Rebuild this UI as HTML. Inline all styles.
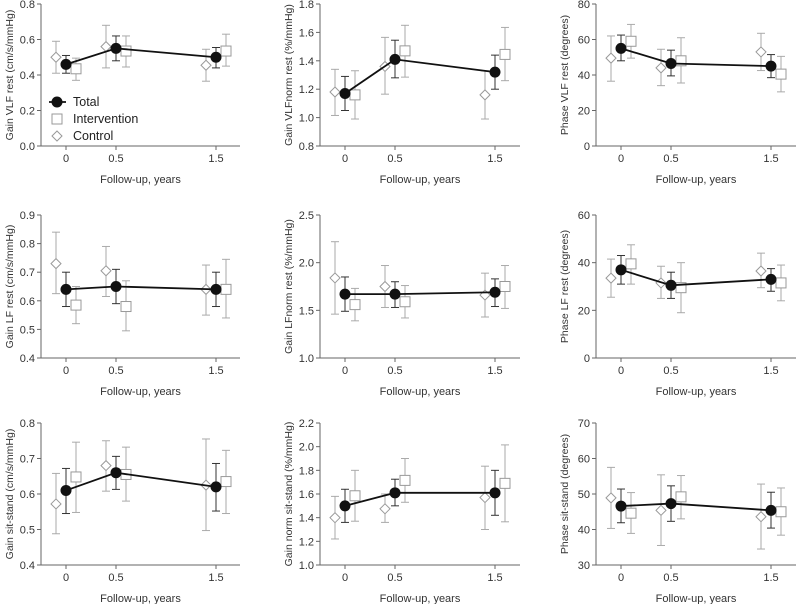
<!DOCTYPE html>
<html><head><meta charset="utf-8">
<style>
html,body{margin:0;padding:0;background:#fff;}
svg{display:block;font-family:"Liberation Sans",Arial,sans-serif;}
</style></head>
<body>
<svg id="chart" width="796" height="604" viewBox="0 0 796 604"></svg>
<script>
const times = [0, 0.5, 1.5];
const xTickLabels = ["0", "0.5", "1.5"];
const panelTitles = ["Gain VLF rest (cm/s/mmHg)","Gain VLFnorm rest (%/mmHg)","Phase VLF rest (degrees)",
 "Gain LF rest (cm/s/mmHg)","Gain LFnorm rest (%/mmHg)","Phase LF rest (degrees)",
 "Gain sit-stand (cm/s/mmHg)","Gain norm sit-stand (%/mmHg)","Phase sit-stand (degrees)"];
const yMins = [0, 0.8, 0, 0.4, 1.0, 0, 0.4, 1.0, 30];
const yMaxs = [0.8, 1.8, 80, 0.9, 2.5, 60, 0.8, 2.2, 70];
const ySteps = [0.2, 0.2, 20, 0.1, 0.5, 20, 0.1, 0.2, 10];
const yDecimals = [1,1,0,1,1,0,1,1,0];
// Total: mean, low, high
const totalMean = [[0.46,0.55,0.50],[1.17,1.41,1.32],[55,46.5,45],[0.64,0.65,0.64],[1.67,1.67,1.69],[37,30.5,33],[0.61,0.66,0.62],[1.50,1.61,1.61],[46.6,47.3,45.4]];
const totalLow = [[0.41,0.48,0.44],[1.05,1.28,1.20],[48,39.5,38.5],[0.58,0.59,0.58],[1.49,1.53,1.54],[31,25,28],[0.545,0.613,0.552],[1.36,1.50,1.42],[41.9,42.3,40.4]];
const totalHigh = [[0.51,0.62,0.555],[1.29,1.545,1.44],[62.5,54,51.5],[0.70,0.71,0.70],[1.85,1.80,1.83],[43,36,37.5],[0.672,0.706,0.686],[1.64,1.725,1.80],[51.4,52.3,50.5]];
const intMean = [[0.435,0.535,0.535],[1.16,1.47,1.445],[59,48,40.5],[0.585,0.58,0.64],[1.56,1.59,1.75],[39.5,29.5,31.5],[0.648,0.655,0.635],[1.585,1.715,1.69],[44.6,49.2,45]];
const intLow = [[0.37,0.445,0.45],[0.99,1.285,1.26],[49.5,35.5,30.5],[0.52,0.495,0.54],[1.39,1.42,1.52],[31,19,24],[0.548,0.58,0.545],[1.37,1.53,1.365],[38.9,43,38.4]];
const intHigh = [[0.495,0.62,0.63],[1.33,1.65,1.635],[68.5,61,50.5],[0.65,0.67,0.745],[1.73,1.76,1.97],[47.5,40,39],[0.746,0.732,0.723],[1.80,1.90,2.015],[50.4,55.2,51.7]];
const ctlMean = [[0.50,0.56,0.455],[1.18,1.36,1.16],[49.5,44,53],[0.73,0.705,0.64],[1.84,1.75,1.66],[33.5,31.5,36.5],[0.572,0.68,0.625],[1.40,1.475,1.57],[48.9,45.4,43.6]];
const ctlLow = [[0.41,0.44,0.365],[1.015,1.165,0.99],[36.5,34,42.5],[0.625,0.615,0.55],[1.46,1.53,1.43],[25.5,25,29.5],[0.488,0.608,0.497],[1.22,1.36,1.30],[40.3,35.5,34.5]];
const ctlHigh = [[0.59,0.68,0.545],[1.34,1.565,1.33],[62,54.5,63.5],[0.84,0.79,0.725],[2.22,1.97,1.89],[41.5,38.5,44],[0.658,0.75,0.755],[1.58,1.60,1.835],[57.5,55.4,52.8]];

const NS="http://www.w3.org/2000/svg";
const svg=document.getElementById('chart');
function mk(tag,attrs,parent){const e=document.createElementNS(NS,tag);for(const k in attrs)e.setAttribute(k,attrs[k]);(parent||svg).appendChild(e);return e;}
const colAxisX=[41,320,596], colEnd=[240,520,796];
const rowTop=[4,215,423], rowBot=[146,358,565];
const ctlOff=-0.1, intOff=0.1;

for(let p=0;p<9;p++){
  const c=p%3, r=Math.floor(p/3);
  const ax=colAxisX[c], x0=ax+25, top=rowTop[r], bot=rowBot[r];
  const xs=t=>x0+t*100;
  const ys=v=>bot-(v-yMins[p])/(yMaxs[p]-yMins[p])*(bot-top);
  const g=mk('g',{});
  
  
  // axes
  const ya=mk('line',{x1:ax,y1:top,x2:ax,y2:bot,stroke:'#666','stroke-width':1},g);
  
  
  const xa=mk('line',{x1:ax,y1:bot,x2:colEnd[c],y2:bot,stroke:'#666','stroke-width':1},g);
  
  
  const n=Math.round((yMaxs[p]-yMins[p])/ySteps[p]);
  for(let i=0;i<=n;i++){
    const v=yMins[p]+i*ySteps[p], y=ys(v);
    mk('line',{x1:ax-4,y1:y,x2:ax,y2:y,stroke:'#666'},g);
    const t=mk('text',{x:ax-6,y:y+4,'text-anchor':'end','font-size':11,fill:'#333'},g);
    t.textContent=v.toFixed(yDecimals[p]);
    
    
  }
  times.forEach((tm,i)=>{
    const x=xs(tm);
    mk('line',{x1:x,y1:bot,x2:x,y2:bot+4,stroke:'#666'},g);
    const t=mk('text',{x:x,y:bot+16,'text-anchor':'middle','font-size':11,fill:'#333'},g);
    t.textContent=xTickLabels[i];
    
    
  });
  const xt=mk('text',{x:(ax+colEnd[c])/2,y:bot+37,'text-anchor':'middle','font-size':11,fill:'#333'},g);
  xt.textContent='Follow-up, years';
  
  
  const tx=ax-28, ty=(top+bot)/2;
  const yt=mk('text',{x:tx,y:ty,'text-anchor':'middle','font-size':10.5,fill:'#333',transform:`rotate(-90 ${tx} ${ty})`},g);
  yt.textContent=panelTitles[p];
  
  

  function errbar(x,lo,hi,col){
    mk('line',{x1:x,y1:ys(lo),x2:x,y2:ys(hi),stroke:col,'stroke-width':1},g);
    mk('line',{x1:x-4,y1:ys(lo),x2:x+4,y2:ys(lo),stroke:col},g);
    mk('line',{x1:x-4,y1:ys(hi),x2:x+4,y2:ys(hi),stroke:col},g);
  }
  // control
  times.forEach((tm,i)=>{
    const x=xs(tm+ctlOff), y=ys(ctlMean[p][i]);
    errbar(x,ctlLow[p][i],ctlHigh[p][i],'#aaa');
    const m=mk('path',{d:`M${x} ${y-5}L${x+5} ${y}L${x} ${y+5}L${x-5} ${y}Z`,fill:'#fff',stroke:'#999'},g);
    
    
  });
  // intervention
  times.forEach((tm,i)=>{
    const x=xs(tm+intOff), y=ys(intMean[p][i]);
    errbar(x,intLow[p][i],intHigh[p][i],'#aaa');
    const m=mk('rect',{x:x-5,y:y-5,width:10,height:10,fill:'#fff',stroke:'#999'},g);
    
    
  });
  // total
  times.forEach((tm,i)=>errbar(xs(tm),totalLow[p][i],totalHigh[p][i],'#333'));
  const pts=times.map((tm,i)=>xs(tm)+','+ys(totalMean[p][i])).join(' ');
  const pl=mk('polyline',{points:pts,fill:'none',stroke:'#111','stroke-width':1.8},g);
  
  
  times.forEach((tm,i)=>{
    const m=mk('circle',{cx:xs(tm),cy:ys(totalMean[p][i]),r:5.5,fill:'#111'},g);
    
    
  });
}
// legend
const lg=mk('g',{});


mk('line',{x1:49,y1:102,x2:66,y2:102,stroke:'#111','stroke-width':1.8},lg);
mk('circle',{cx:57,cy:102,r:5.5,fill:'#111'},lg);
mk('rect',{x:52,y:114,width:10,height:10,fill:'#fff',stroke:'#999'},lg);
mk('path',{d:'M57 131L62 136L57 141L52 136Z',fill:'#fff',stroke:'#999'},lg);
[['Total',106],['Intervention',123],['Control',140]].forEach(([s,y])=>{
  const t=mk('text',{x:73,y:y,'font-size':12.5,fill:'#222'},lg);
  t.textContent=s;
  
  
});
</script>
</body></html>
